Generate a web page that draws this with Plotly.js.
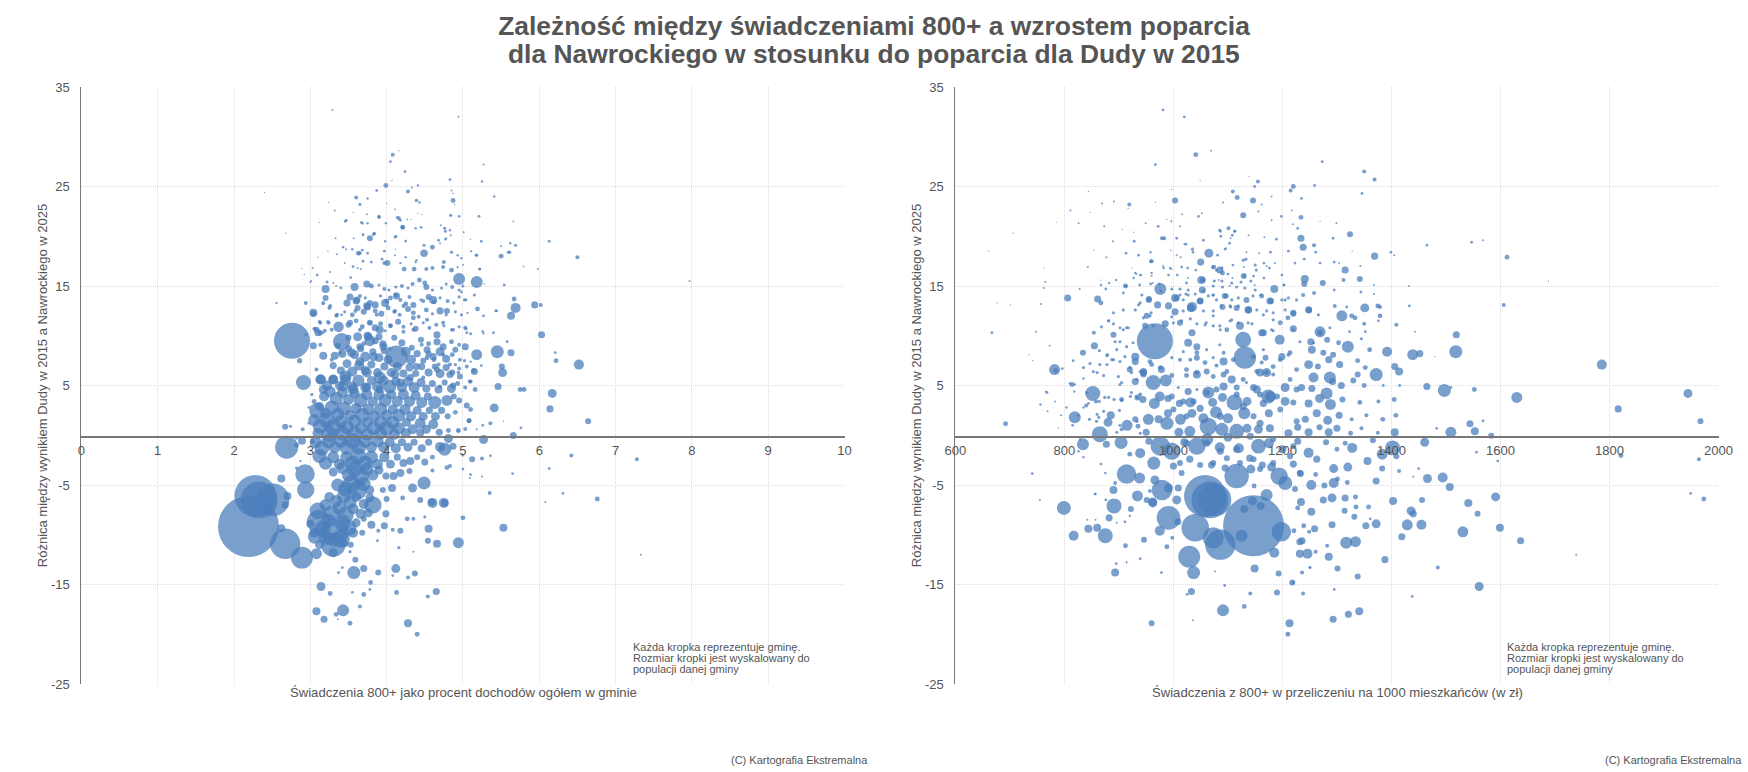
<!DOCTYPE html>
<html><head><meta charset="utf-8">
<script src="https://cdn.plot.ly/plotly-3.0.1.min.js"></script>
<style>html,body{margin:0;padding:0;background:#fff}#c{width:1748px;height:772px}</style>
</head><body><div id="c"></div>
<script>
// every row: [x value, change in support, population in thousands]
const leftLarge=[[2.19,-9.17,1860],[2.28,-6.1,880],[2.33,-6.5,680],[2.51,-6.5,540],[2.76,9.5,650],[2.67,-10.9,460],[2.89,-12.3,240],[2.69,-1.2,265],[2.93,-3.9,190],[2.94,-5.5,150],[2.91,5.3,112],[3.09,2.45,128],[3.11,-8.7,280],[3.32,-9.8,380],[3.3,-11,300],[3.41,9.4,150],[3.37,10.9,55],[4.13,7.9,250],[3.06,-10.2,100],[3.08,-11.9,60]];
const leftUpper=[[3.29,32.7,2],[4.94,32,2],[4.08,28.2,8],[4.16,28.6,1],[4.05,27.5,4],[5.27,27.2,2],[4.24,26.5,4],[3.99,25.1,12],[4.83,25.7,4],[5.25,25.5,3],[4.07,25.6,1],[4.33,24.9,2],[4.41,25.1,3],[4.28,24.5,8],[3.87,24.6,4],[4.85,24.6,2],[4.87,24.3,1],[4.87,23.6,12],[5.41,24,3],[3.6,23.9,8],[3.75,23.8,3],[2.4,24.4,0.4],[4.39,23.6,6],[4.43,23.4,3],[3.65,23.2,5],[3.24,23.4,0.5],[4,23.3,0.5],[4.89,23.2,1],[4.11,22.7,1.5],[3.32,22.6,2],[3.56,22.4,1],[3.74,22.2,2],[3.9,22,5],[4.84,22.1,5],[4.95,22,4],[5.21,22,4],[4.16,21.8,8],[4.46,22.2,1],[4.41,22.3,1],[4.27,21.7,1.5],[4.32,21.7,1],[3.46,21.5,4],[3.67,21.4,3],[3.75,21.3,3],[3.99,21.3,3],[5.66,21.5,1.5],[3.12,21.4,0.8],[4.21,20.9,12],[4.46,20.9,1],[4.71,21.1,2],[4.76,20.8,5],[4.77,20.5,5],[5.01,20.4,2],[2.68,20.3,0.5],[3.69,20.1,2],[3.83,20.2,6],[3.78,19.8,18],[4.12,20,5],[4.84,20.1,2],[6.13,19.5,4],[3.33,19.8,2],[3.57,19.8,2],[4.25,19.6,1],[4.68,19.6,4],[4.78,19.8,2],[5.1,19.7,0.5],[5.24,19.5,4],[4.7,19.3,2],[5.62,19.3,3],[5.69,19.1,5],[5.5,19,2],[3.43,18.9,1],[4.49,19.1,5],[4.6,18.9,12],[4.49,18.3,28],[3.65,18.3,6],[3.68,18.6,4],[3.75,18.3,4],[4.12,18.7,1],[3.35,18.2,2],[3.1,17.9,1],[6.5,17.9,8],[5.61,18.4,6],[5.5,18,12],[5.17,18.1,3],[5.1,18.5,1],[3.47,21.6,4],[3.68,21.3,4],[3.9,21.9,6],[4.14,21.9,4],[4.18,21.6,4],[4.38,20.8,3],[4.45,20.9,3],[4.21,20.9,8],[4.77,19.7,3],[4.83,20.6,3],[3.69,20.2,3],[3.84,20.3,5],[3.98,19.5,3],[4.11,19.9,3],[4.25,19.5,3],[3.43,18.9,3],[3.47,18.7,2],[3.55,18.7,3],[3.63,18.3,12],[3.97,18.5,4],[4.85,18.4,5],[4.93,18.1,3],[4.98,17.8,3],[5.11,18.5,2],[3.23,18.5,1]];
const leftMiddle=[[3.45,17.3,2],[3.56,16.95,4],[3.62,16.8,2],[3.66,16.7,2],[3.69,17.5,4],[3.8,17.4,4],[4.01,17.3,18],[3.94,17.7,4],[3.97,17.3,8],[4.38,17.4,3],[4.39,17.6,3],[4.25,17.9,3],[4.11,18.1,2],[4.23,16.7,12],[4.18,17.3,3],[4.36,16.7,12],[4.52,16.7,8],[4.6,16.8,8],[4.75,17.4,8],[4.74,16.9,8],[4.85,16.6,12],[4.93,16.9,3],[5,17.1,2],[5.18,18.1,5],[5.22,16.7,4],[5.59,18.4,3],[5.8,16.9,1],[3.03,16.8,2],[3.09,16.1,4],[3,15.4,2],[2.92,16.15,1],[2.89,16.75,0.5],[3.26,16.4,2],[3.22,15.4,4],[3.3,15.3,2],[3.2,14.7,32],[3.4,14.8,4],[3.34,15,2],[3.53,15.85,4],[3.2,13.8,18],[3.16,13.2,2],[3.25,12.8,8],[2.94,13.3,8],[2.55,13.3,1],[3.04,12.3,32],[3.12,11.4,6],[3.23,11.4,6],[3.05,10.7,6],[3.1,10.3,25],[3.17,10.3,3],[3.28,10.6,8],[3.34,12,8],[3.41,12.1,4],[3.58,14.9,32],[3.74,15.2,25],[3.8,15,12],[3.9,15.1,5],[3.97,14.7,8],[4.03,14.6,5],[4.12,14.9,5],[4.2,15,8],[4.28,14.8,5],[4.34,15.2,8],[4.43,15.6,12],[4.5,15.3,12],[4.52,14.9,18],[4.6,14.6,5],[4.72,14.8,5],[4.78,15.2,5],[4.86,14.9,8],[4.95,14.6,5],[5,15,5],[3.52,13.9,25],[3.6,13.5,25],[3.65,14,8],[3.72,13.8,5],[3.78,13.3,18],[3.85,13.1,25],[3.92,14,5],[4,13.5,12],[4.05,13.8,12],[4.12,14.1,12],[4.18,13.6,8],[4.25,13.2,12],[4.35,13.1,18],[4.3,13.9,8],[4.45,13.6,5],[4.55,13.9,18],[4.62,13.4,12],[4.7,13.8,5],[4.8,13.5,8],[4.88,13.3,5],[4.95,13.9,5],[5.02,13.6,5],[3.45,12.4,5],[3.55,12.1,12],[3.62,12.8,18],[3.7,12.4,18],[3.75,12.9,25],[3.85,12.5,12],[3.93,12.2,18],[4.02,12.8,12],[4.1,12.4,8],[4.17,12.1,8],[4.28,12.7,18],[4.35,12.3,12],[4.42,11.9,8],[4.52,12.6,12],[4.6,12.2,5],[4.7,12.5,25],[4.78,12.1,5],[4.9,12.4,5],[4.98,12.1,5],[5.06,12.3,3],[3.5,11.1,18],[3.6,11.5,12],[3.68,10.9,12],[3.78,11.3,18],[3.85,10.8,25],[3.92,11.2,12],[3.98,10.5,5],[4.05,11,12],[4.15,11.4,18],[4.22,10.9,8],[4.32,11.2,5],[4.38,10.7,18],[4.48,11.3,5],[4.56,10.8,8],[4.65,11.1,8],[4.75,11,5],[4.85,10.6,5],[4.95,10.9,5],[5.04,10.7,5],[5.1,10.2,5],[5.27,10.2,2],[4.66,10.1,25],[3.75,10,32],[3.9,9.9,25],[3.5,9.8,18],[3.62,9.9,40],[3.7,9.2,12],[3.85,9.5,25],[3.95,9.2,25],[4.1,9.8,18],[4.2,9.3,25],[3.78,9.5,60],[4.45,9.6,18],[4.55,9.2,12],[4.66,9.4,25],[4.74,8.9,25],[4.85,9.4,12],[4.95,9.1,8],[5.03,8.9,25],[5.03,10.8,8],[2.94,10.1,4],[3.07,10.7,5],[3.13,10.3,14],[2.86,7.5,14],[3.04,9,25],[3.17,8,32],[3.32,8,32],[5.18,8.1,60],[5.45,8.4,85],[5.63,8.3,25],[6.03,10.1,25],[6.21,8.3,4],[6.22,7.5,12],[6.52,7.1,50],[5.52,6.3,40],[5.51,6.9,18],[5.58,9.4,4],[5.14,6.5,12],[5.24,7,4],[5.46,4.9,25],[5.75,4.6,12],[5.8,4.6,12],[6.17,4.2,40],[5.26,10.4,4],[5.4,10.3,4],[5.69,12.8,50],[5.67,13.7,12],[5.63,12,32],[5.94,13.1,25],[6.02,13.1,8],[5.43,12.5,4],[5.19,12.7,12],[5.54,15.1,4],[5.18,15.4,72],[4.95,15.7,72],[5.22,16.7,4],[5.98,16.7,2],[5.79,17,1],[7.97,15.5,2],[5.28,15.2,1],[2.56,13.3,2],[3.01,15.5,2],[5.44,12.5,4],[5.27,12,4],[5.15,14.1,5],[5.04,13.6,4],[4.98,14.4,4]];
const leftFill=[[3.04,12.2,18],[3.17,4.6,40],[3.13,5.6,50],[3.91,10.6,32],[4.79,12.5,18],[4.9,8.6,18],[4.96,5.9,18],[4.83,6.1,25],[4.66,6.6,18],[4.39,6.9,25],[5.15,6.4,25],[5.05,10.3,4],[4.87,10.6,8],[4.35,11.8,12],[4.61,13.6,32],[4.13,14,25],[3.61,13.6,25],[3.48,13.3,25],[3.26,13,8],[3.17,13.3,8],[3.35,12.1,8],[3.13,11.3,8],[3.24,11.3,8],[3.08,10.6,18],[3.19,10.5,8],[3.59,12.5,8],[3.74,13,25],[3.98,13.3,32],[3.87,12.1,8],[4.11,12.5,8],[4.22,13,8],[4.48,13.5,8],[4.53,11.6,8],[4.74,11.3,8],[4.35,10.6,8],[4.22,10.4,8],[4.05,11,8],[3.78,11.3,8],[3.65,10.6,8],[3.52,11.3,18],[3.76,9.9,32],[3.65,8.9,25],[3.54,8.3,40],[3.39,8.3,8],[3.28,7.6,8],[3.13,9.1,8],[3.08,6.6,8],[3.3,5.6,40],[3.46,5.9,72],[3.65,7.4,40],[3.83,7.9,40],[3.96,8.9,32],[3.74,6.3,50],[3.91,5.8,72],[4.11,6.1,40],[4.31,5.8,25],[4.18,5.3,32],[4.53,8.6,25],[4.33,8.8,18],[4.46,9.1,8],[4.61,7.9,25],[4.74,8.1,8],[4.53,7.8,12],[4.68,7.1,8],[4.83,7.1,8],[4.48,5.8,8],[4.7,4.9,8],[4.87,5,18],[5.09,5.4,8],[5.16,4.6,12],[5.05,6.9,8],[3.56,4.6,60],[3.74,4.8,40],[3.91,4.6,32],[3.43,4.9,50],[3.05,3.4,12],[3.02,4.1,5],[2.98,2.8,4],[2.98,1.2,4],[2.9,0.6,8],[3.03,-0.6,12],[4.04,8.7,8],[4.9,7.1,6],[5.02,7.5,5],[4.94,6.3,6],[5.1,7.4,3]];
const leftCorePositive=[[3.36,9,18],[3.42,8.2,32],[3.5,8.7,25],[3.58,8.1,40],[3.66,8.7,25],[3.72,7.9,50],[3.82,8.4,25],[3.9,7.8,40],[3.97,8.5,25],[4.02,7.6,40],[4.25,8.4,50],[4.32,7.6,50],[4.4,8.2,25],[4.48,7.5,18],[4.55,8.2,18],[4.62,7.6,12],[4.7,8.4,40],[4.78,7.7,32],[4.86,8.1,12],[4.96,7.6,8],[3.3,7,25],[3.4,6.5,32],[3.48,7.2,40],[3.55,6.4,50],[3.64,7,50],[3.72,6.5,40],[3.8,7.1,32],[3.88,6.3,40],[3.97,6.9,32],[4.06,6.3,40],[4.14,6.9,40],[4.22,6.2,32],[4.3,6.8,32],[4.38,6.2,25],[4.46,6.9,25],[4.55,6.3,32],[4.63,6.9,18],[4.7,6.2,40],[4.78,6.8,25],[4.86,6.3,18],[4.95,6.7,8],[3.14,5.6,50],[3.22,5,50],[3.3,5.6,50],[3.38,5,40],[3.46,5.6,60],[3.55,4.9,50],[3.63,5.5,72],[3.72,4.8,50],[3.8,5.5,40],[3.88,4.9,60],[3.96,5.5,50],[4.04,4.9,90],[4.12,5.4,40],[4.2,4.8,50],[4.28,5.4,50],[4.36,4.8,60],[4.45,5.3,40],[4.52,4.7,32],[4.6,5.2,25],[4.68,4.6,32],[4.76,5.3,18],[4.85,4.7,40],[4.93,5.2,12],[5.03,4.8,8],[5.1,5.4,8],[3.18,3.9,50],[3.26,4.4,60],[3.34,3.7,85],[3.42,4.3,60],[3.5,3.6,60],[3.58,4.2,50],[3.66,3.5,98],[3.74,4.1,60],[3.82,3.4,50],[3.9,4.1,60],[3.98,3.5,85],[4.06,4.1,50],[4.14,3.4,60],[4.22,4.1,60],[4.3,3.4,60],[4.38,4,50],[4.46,3.3,60],[4.54,3.9,32],[4.63,3.3,85],[4.79,3.5,60],[4.88,3.9,18],[4.95,3.5,18],[5.05,3,18],[5.1,2.6,12],[3.12,2.9,40],[3.2,2.2,60],[3.28,2.8,98],[3.36,2.1,85],[3.44,2.7,98],[3.52,2,60],[3.6,2.7,60],[3.68,2,110],[3.76,2.6,72],[3.84,1.9,60],[3.92,2.6,85],[4,2,60],[4.08,2.6,50],[4.16,2,85],[4.24,2.6,60],[4.32,1.9,50],[4.4,2.5,40],[4.48,1.9,40],[4.56,2.5,25],[4.64,1.9,40],[4.72,2.5,25],[4.8,1.9,18],[4.9,2.3,12],[5.08,1.45,12],[3.05,1.5,72],[3.13,0.9,112],[3.22,1.5,125],[3.3,0.8,140],[3.4,1.4,85],[3.48,0.8,98],[3.58,1.4,85],[3.66,0.7,72],[3.75,1.3,60],[3.83,0.7,98],[3.92,1.3,85],[4,0.7,110],[4.08,1.3,85],[4.16,0.7,72],[4.26,1.3,40],[4.34,0.6,50],[4.44,1.2,60],[4.52,0.6,40],[4.61,1.1,50],[4.69,0.3,25],[4.81,0.47,12],[4.94,0.47,12],[5.03,0.64,8],[3.1,0.2,60],[3.25,0.1,125],[3.42,0.2,110],[3.58,0.1,125],[3.75,0.1,85],[3.92,0.2,85],[4.1,0.1,60],[4.25,0.2,50],[4.44,0.25,32],[2.67,0.85,18],[2.74,0.9,5],[6.14,2.65,25],[6.64,1.4,18],[5.66,-0.03,25],[5.76,0.75,4],[5.53,1.4,1],[5.41,2.75,40],[5.27,-0.43,40],[5.36,1.2,8],[5.26,1,4],[5.08,1.45,12],[5.18,0.6,2],[4.94,0.4,4]];
const leftCoreNegative=[[2.89,-0.55,32],[3.07,-0.7,72],[3.15,-1.3,112],[3.24,-0.6,98],[3.32,-1.2,72],[3.4,-0.6,85],[3.48,-1.2,112],[3.56,-0.6,125],[3.64,-1.2,98],[3.72,-0.6,85],[3.8,-1.2,60],[3.88,-0.6,72],[3.96,-1.2,60],[4.04,-0.7,50],[4.12,-1.3,50],[4.2,-0.7,32],[4.28,-1.2,40],[4.36,-0.7,25],[4.46,-1.3,32],[4.55,-0.7,25],[4.7,-1.17,50],[4.87,-1.1,25],[4.81,-0.33,40],[4.76,-1.4,85],[3.12,-2.1,98],[3.2,-2.8,85],[3.3,-2.2,72],[3.38,-2.9,60],[3.47,-2.2,72],[3.55,-2.8,110],[3.63,-2.1,125],[3.72,-2.8,110],[3.8,-2.2,85],[3.88,-2.9,60],[3.97,-2.2,50],[4.05,-2.9,40],[4.14,-2.2,25],[4.22,-2.8,32],[4.31,-2.6,32],[4.4,-2.2,18],[4.5,-2.7,25],[4.6,-2.2,12],[5.12,-2.4,18],[5.25,-2.34,8],[5.36,-2.07,4],[5,-2,4],[4.79,-3.25,12],[3.3,-3.7,40],[3.42,-3.3,72],[3.5,-4,85],[3.58,-3.4,125],[3.66,-4.1,140],[3.74,-3.4,85],[3.82,-4,60],[3.9,-3.5,40],[3.99,-4.1,25],[4.09,-4.1,32],[4.18,-3.8,32],[4.3,-3.6,18],[4.6,-3.55,8],[4.83,-3.1,8],[5,-3.4,4],[3.36,-5,85],[3.46,-5.4,110],[3.54,-4.9,160],[3.62,-5.5,180],[3.7,-4.9,98],[3.78,-5.5,40],[3.95,-5.5,18],[4.07,-5.3,32],[3.25,-6.2,50],[3.34,-6.6,72],[3.44,-6.1,98],[3.52,-6.7,85],[3.6,-6.2,50],[3.7,-6.9,50],[3.82,-7,150],[3.78,-6.3,40],[4,-6.4,18],[4.44,-6.5,18],[4.59,-6.7,25],[4.75,-6.8,50],[4.6,-6.8,50],[3.1,-7.6,140],[3.2,-7,72],[3.28,-7.8,110],[3.38,-7.3,98],[3.46,-8,140],[3.56,-7.4,60],[3.66,-7.9,50],[3.76,-7.8,40],[3.99,-7.9,25],[3,-8.9,32],[3.16,-9.4,125],[3.24,-8.6,98],[3.42,-8.8,140],[3.5,-9.3,125],[3.6,-8.8,40],[3.7,-8.4,18],[3.8,-9,32],[3.05,-9.8,50],[3.2,-10.3,98],[3.4,-10.4,160],[3.56,-9.8,50],[3.68,-9.8,18],[3.12,-11,40],[3.53,-11,18],[3.52,-11.7,5],[3.45,-10.9,25],[3.3,-11.8,40],[2.62,-4.35,32],[2.7,-6.1,32],[2.67,-7,25],[2.62,-9.35,32],[2.82,-3.3,5],[2.87,-2.6,3],[2.82,-1,12],[2.82,-0.3,4]];
const leftLower=[[4.55,-9.4,32],[5.53,-9.3,32],[4.94,-10.8,60],[4.66,-10.9,32],[4.54,-10.6,18],[5,-8.3,12],[5.35,-5.8,8],[6.31,-5.85,4],[6.08,-6.7,2],[6.76,-6.4,12],[7.28,-2.4,8],[7.33,-12,2],[6.42,-2.04,8],[6.13,-3.35,4],[5.65,-3.85,4],[5.25,-4.15,2],[5.1,-3.95,4],[5.09,-4.3,2],[4.76,-6.8,25],[4.49,-4.8,85],[4.34,-5.3,40],[4.21,-6.3,12],[4.5,-8.2,5],[4.27,-8.4,12],[4.35,-8.4,8],[3.97,-9.1,25],[3.89,-9.6,8],[4.08,-9.5,8],[4.18,-9.6,18],[3.88,-10.6,4],[4.16,-11.3,5],[4.35,-11.7,2],[3.59,-12.5,18],[3.7,-13.4,25],[4.12,-13.4,40],[3.89,-13.8,18],[4.37,-13.9,18],[4.28,-14.3,8],[4.08,-14.1,4],[3.57,-13.8,85],[3.37,-13.8,4],[3.42,-13.3,4],[3.79,-14.8,12],[3.78,-15.5,4],[4.13,-15.8,12],[4.65,-15.7,25],[4.54,-16.2,8],[3.7,-16,12],[3.55,-15.8,4],[3.26,-15.9,12],[3.14,-15.2,40],[3.08,-17.7,32],[3.18,-18.5,25],[3.43,-17.6,72],[3.34,-18,12],[3.36,-18.5,2],[3.52,-18.9,12],[3.65,-17.2,8],[4.28,-18.9,32],[4.4,-20,12]];

const rightLarge=[[1147,-9.1,1860],[1058,-6.1,880],[1067,-6.5,680],[1076,-6.5,540],[966,9.45,650],[1086,-11,460],[1029,-12.2,240],[991,-8.3,280],[1040,-9.3,380],[1116,-4.1,300],[1073,-10.3,220],[1198,-9.7,190],[979,-5.5,210],[914,-3.9,190],[1194,-4.1,150],[1205,-4.8,100],[1131,7.8,250],[1128,9.6,125],[1064,0.9,150],[1043,-1.1,150],[1112,3.3,125],[976,-1.1,190],[997,-1.6,150],[1037,-13.8,85],[963,5.3,112],[986,5.5,72],[875,-10.1,112],[891,-7.1,112],[852,4.2,112],[865,0.1,128],[799,-7.3,98]];
const rightUpper=[[981,32.7,4],[1020,32,4],[1041,28.2,12],[1069,28.6,2],[967,27.2,4],[1273,27.5,4],[1350,26.5,8],[1369,25.7,8],[1155,25.5,8],[1139,26,0.5],[1049,25.6,0.5],[1149,25,4],[1220,25,12],[1215,24.6,8],[1259,25.1,4],[997,24.7,0.5],[1109,24.5,8],[1117,23.9,12],[1146,23.6,18],[1180,24,2],[1235,23.8,4],[1346,24.3,4],[844,24.5,0.5],[1003,23.6,18],[967,23.4,0.5],[869,23.3,2],[891,23.5,2],[919,23.2,8],[1091,23.4,2],[1162,23.2,2],[811,22.6,2],[847,22.4,0.5],[1217,22.6,2],[1156,22.5,2],[1234,21.9,12],[1198,22,4],[1128,22.1,18],[1046,22,4],[1052,22.3,2],[1016,22.2,2],[917,22.8,0.5],[1180,21.6,2],[988,21.7,0.5],[996,21.5,2],[949,21.3,2],[826,21.3,2],[785,21.4,0.5],[972,21,4],[1269,21.5,0.5],[1299,21.3,2],[1219,21.2,2],[1228,20.8,4],[873,21,2],[906,20.7,0.5],[1101,20.8,8],[1112,20.5,4],[1085,20.6,4],[1012,21,2],[1324,20.2,18],[927,20.4,0.5],[706,20.3,0.3],[1138,20.1,2],[1167,19.9,2],[1189,19.7,4],[1234,19.8,25],[1293,19.8,4],[1087,20,4],[1105,19.8,2],[1006,19.8,4],[979,19.8,8],[983,19.8,8],[928,19.5,4],[889,19.5,2],[1055,19.6,4],[1547,19.4,4],[1568,19.6,2],[1465,19.1,4],[1238,18.9,25],[1258,19.1,8],[1020,19.2,2],[1096,18.8,2],[995,18.6,1],[661,18.5,0.3],[913,18.3,4],[854,18.6,0.5],[1065,18.3,40],[1036,18.4,4],[1134,18.4,2],[1157,18.3,2],[1211,18.5,4],[1261,18.4,4],[1399,18.4,4],[1405,18.1,2],[1328,18.5,0.5],[1369,18,25],[1612,17.9,12],[877,17.9,2],[1006,18.1,2],[1013,17.9,2],[959,17.5,8],[1050,17.4,25],[1223,17.3,4],[1240,17.7,4],[1269,17.3,4],[1295,17.4,4],[1304,17.3,2],[1074,16.9,12],[1085,16.6,25],[1090,16.3,12],[1129,16.9,2],[1171,17,2],[1186,17.3,2],[1315,16.6,25],[1343,17,2],[843,16.9,2],[763,16.8,0.5],[981,17,2],[996,16.7,2],[924,16.8,0.5],[1051,15.6,32],[1129,16,18],[932,16.2,2],[960,16,2],[941,16.1,2],[1027,15.8,2],[1108,15.8,2],[1083,15.6,2],[1241,15.7,32],[1240,15.2,18],[1274,15.3,18],[1312,15.6,8],[1342,15.7,18],[1688,15.5,0.5],[1432,15,2],[1368,15.1,2],[765,15.4,2],[867,15.6,0.5],[762,14.8,2],[876,14.7,4],[912,15,12],[828,14.7,2],[976,14.7,72],[962,15.3,2],[1185,14.7,32],[1103,15,2],[1149,15.1,2],[1202,15.1,2],[1295,14.6,4],[1368,14.2,2]];
const rightScatter=[[936,18.1,4],[958,18.4,3],[960,17.5,8],[1023,19.2,4],[1035,18.7,5],[1086,20.5,4],[1108,20.1,4],[1113,20.5,4],[1103,19.3,4],[1095,18.7,4],[1081,18.1,4],[1178,18.4,4],[1166,17.3,4],[1150,17.1,5],[1128,17.6,5],[1133,17.7,5],[1152,16.6,5],[1176,16.8,4],[1130,16,5],[1147,16,4],[1166,15.8,4],[1199,16.1,4],[1072,16.9,5],[1079,16.6,5],[1089,16.8,5],[1109,17.1,4],[1100,16.2,4],[1054,15.6,18],[1075,15.5,5],[1089,15.5,5],[1107,15.3,5],[1124,15.4,5],[1142,15.5,5],[1041,16.6,4],[1026,16.8,4],[1015,16.9,4],[1007,16.1,4],[991,16.1,4],[994,16.8,3],[982,16.8,3],[960,16.3,3],[939,16.1,3],[927,15.8,3],[930,16.3,3],[895,15.6,3],[882,15.3,3],[867,15.1,3],[913,15,5],[938,15.1,4],[958,15.2,4],[974,15.2,4],[997,14.7,5],[1012,14.7,5],[1024,15.3,4],[1027,14.6,5],[1053,14.6,25],[1073,15,5],[1090,14.9,5],[1116,14.9,5],[1131,14.8,5],[1150,14.6,5],[1203,15.1,4],[939,13.3,5],[955,13.7,18],[971,13.1,25],[1003,13.8,32],[1012,14.1,5],[1023,14.2,5],[1018,13.6,5],[1040,14.2,5],[1049,13.5,25],[1064,14,5],[1073,14.1,5],[1094,14,18],[1079,13.6,5],[1107,13.6,5],[1119,13.8,5],[1134,13.6,18],[1146,14,5],[1162,14,12],[1177,13.5,25],[1199,13.6,5],[1211,13.8,5],[951,12,18],[959,12.3,5],[1003,12.4,25],[1018,12.5,5],[1034,12.9,50],[1055,12.5,5],[1073,12.5,5],[1090,12.9,18],[1104,13,5],[1116,12.8,18],[1138,12.6,25],[1153,12.6,5],[1171,12.5,5],[1183,12.3,5],[1205,12.6,5],[1220,12.3,18],[881,11.5,5],[890,11.2,5],[917,10.8,5],[908,10.6,5],[868,10.9,5],[854,10.3,8],[948,11,18],[963,11,5],[985,11.2,25],[1000,11.3,5],[1015,11.5,5],[1031,11.7,5],[1043,11.2,5],[1058,11.1,5],[1073,11,5],[1086,10.6,5],[1104,11.5,5],[1122,11,32],[1144,11.2,5],[1162,10.3,25],[1180,10.6,5],[1196,11.3,12],[1220,10.7,25],[847,7.2,5],[864,8.5,5],[878,8,5],[896,8.6,5],[902,7.4,5],[887,7.6,5],[865,7.1,5],[835,6.8,5],[853,6.4,5],[860,6.3,5],[872,6,5],[920,6.8,5],[939,6.4,5],[905,5.3,5],[933,5.6,5],[945,6.3,25],[923,4.3,5],[810,5.2,3],[819,5.1,3],[835,5.7,3],[841,4.3,5],[818,4.4,3],[766,4.4,2],[756,3.1,3],[783,3.4,2],[804,2.8,3],[769,2.4,2],[794,2,2],[789,0.7,1],[835,2.8,3],[844,3.2,4],[864,3.4,5],[881,3.8,5],[891,3.6,5],[905,3.5,5],[921,3.9,5],[934,3.8,18],[872,2.4,5],[885,2,32],[901,2.5,5],[863,1.8,5],[859,1.4,5],[902,1,5],[896,0.3,5],[933,1.4,5],[939,0.2,5],[829,-0.4,3],[826,-1.6,3],[835,-2.2,3],[867,-2.9,4],[875,-3.8,3],[893,-4.8,8],[856,-5.9,3],[1012,7.6,8],[1031,7.6,8],[1043,8.3,12],[1058,7.3,12],[1079,7,8],[1092,8.3,8],[1110,7.6,12],[1147,7.9,12],[1162,7.3,8],[1171,6.3,12],[1183,6.1,8],[1196,7.6,12],[1211,8.1,8],[1226,6.6,12],[957,7.4,12],[976,6.8,12],[997,6,12],[1024,6,12],[1043,6.3,12],[1073,5.9,12],[1098,6.4,12],[1128,5.6,12],[1153,6.4,12],[1214,5.6,12],[1226,4.6,18],[939,4.1,8],[997,3.9,18],[1018,3.4,18],[1037,3.4,18],[1061,4.3,18],[1079,4.6,18],[1116,4.1,18],[1147,4.8,25],[1159,4.1,18],[1190,3.9,18],[1220,3.3,18],[1000,2.6,18],[1024,1.9,18],[1049,2.7,25],[1086,1.9,25],[1128,2.9,25],[1147,1.9,18],[1159,1.2,25],[1196,2.6,18],[1226,1.4,18],[1141,-0.1,25],[1183,-0.4,18],[1220,-1.1,18],[1086,-1.6,25],[1116,-1.4,25],[1061,-0.8,25],[1024,-0.8,25],[1012,-2.8,18],[1049,-3,18],[1073,-2.8,18],[1098,-2.3,18],[1147,-2.4,18],[1122,-2.8,18],[1159,-3.4,18],[1183,-2.8,18],[1214,-2.1,18],[1232,-3.8,18],[842,-8.5,2],[857,-8.5,2],[857,-5.9,3],[876,-6.5,4],[911,-8.7,4],[920,-8.1,3],[922,-7.4,18],[896,-8.8,2],[998,-10.3,8],[914,-12.8,2],[1220,-14.8,5],[1251,-13.3,3],[957,-5.6,8],[951,-6.5,18],[962,-6.7,40],[1009,-5.3,25],[991,-5.3,40],[1008,-8.7,25],[966,-4.5,40]];
const rightFill=[[908,14.3,4],[942,14.1,5],[955,13.6,18],[977,14.5,5],[936,13.1,5],[991,13,25],[1006,13.8,18],[1027,14.1,5],[1032,12.8,32],[1049,13.5,18],[1055,14.5,5],[1073,14.1,5],[1097,14,12],[1088,13,5],[1105,12.9,5],[1119,13,5],[1137,12.6,25],[1160,14.1,5],[1179,13.5,18],[1205,13.6,5],[1226,13.6,5],[1249,12.6,18],[1266,12.1,5],[1220,12.2,18],[1210,11.8,12],[1183,11.6,5],[1165,12.1,5],[1137,11.3,5],[1119,11.3,5],[1107,11.6,5],[1085,11,5],[1098,10.6,12],[1073,12,5],[1060,11.3,5],[1034,10.3,25],[1012,11.3,18],[997,11.9,5],[957,12,5],[945,11.8,5],[930,12.6,5],[908,12.6,5],[890,12.3,5],[881,11.5,4],[902,10.8,5],[890,10.1,18],[914,10.8,5],[926,9.3,5],[893,9.4,5],[914,8.9,5],[902,9.4,5],[879,8.1,5],[878,7.1,5],[890,7.6,5],[911,7.9,5],[930,7.9,32],[930,7.4,25],[920,6.6,18],[923,6.3,5],[945,6.4,25],[960,7.1,12],[978,6.6,25],[997,7.8,5],[1018,8.4,5],[1027,9.3,32],[1043,8.9,25],[1061,8.6,5],[1085,9.1,5],[1092,7.4,32],[1073,7.8,5],[1043,7.8,18],[1024,6.6,12],[1043,6.1,32],[1061,6.4,18],[1092,6.1,18],[1107,5.6,32],[1159,6.3,32],[1171,6.3,40],[1183,6.9,12],[1199,7.9,25],[1165,8.6,5],[1169,7.8,18],[1214,8.3,12],[1248,7.1,40],[1254,8.6,32],[1269,10.3,18],[1275,8.3,18],[1293,8.1,18],[1232,9.4,5],[1257,9.3,5],[1287,10.8,5],[1220,10.6,5],[1165,10.3,25],[1183,10.5,5],[1195,9.6,50],[1287,5.8,72],[1257,5.8,50],[1235,4.8,25],[1205,4.8,40],[1153,4.6,32],[1174,3.9,98],[1134,5.3,5],[1116,4.8,18],[1092,4.9,32],[1064,4.3,72],[1043,4.6,5],[1027,4.4,25],[1009,4.8,5],[930,5.4,25],[945,6.1,18],[902,5.1,5],[899,5.9,5],[874,3.8,5],[933,3.8,5],[975,3.9,50],[1281,4.2,72],[1254,4.7,25]];
const rightMiddle=[[806,13.8,25],[861,13.7,25],[867,13.3,12],[757,13.2,2],[677,13.3,0.3],[701,13.1,0.5],[1606,13.1,8],[1433,13,4],[1351,12.8,40],[1375,13,12],[1379,12.9,8],[1318,12.9,4],[1248,12.6,25],[1309,12,60],[1327,12,12],[1333,11.8,12],[1379,12,12],[1376,11.5,4],[1409,11.1,8],[1269,10.4,60],[1323,10.4,4],[1519,10.1,25],[1443,10.4,2],[1320,8.9,72],[1392,8.4,50],[1439,8.1,60],[1452,8.2,25],[1518,8.4,85],[1480,7.9,0.5],[1786,7.1,50],[1372,6.1,85],[1406,6.9,25],[1414,6.4,32],[1385,5,4],[1415,5,4],[1465,4.9,25],[1497,4.5,85],[1509,4.8,4],[1552,4.6,12],[1630,3.8,60],[1944,4.2,40],[782,6.6,60],[796,6.7,4],[814,5.1,12],[816,7.5,4],[834,8.3,18],[855,9,25],[748,10.4,2],[667,10.3,4],[773,9,2],[735,8.1,0.5],[742,7.5,0.5],[768,4.3,4],[784,6.5,12],[1296,13,8],[1344,14.4,4],[1258,14.3,8],[1238,14.1,8],[1350,11.2,8],[1352,10.4,4],[1252,9.4,25],[1282,9.6,18],[1303,9.3,12],[1345,9.7,5],[1360,8.6,12],[1305,7.1,25],[1285,7.6,25],[1265,6.9,18],[1338,7.5,12],[1352,6.8,12],[1338,6.1,18],[1292,5.4,25],[1308,5,25],[1330,5.5,18],[1350,5,12]];
const rightCore=[[840,3,8],[858,3.4,8],[905,3.6,12],[944,3.6,25],[965,3.2,60],[990,3.7,25],[1011,3.2,25],[1031,3.3,50],[1072,3.3,40],[1090,3.8,40],[1135,3.4,40],[1178,3.9,60],[1205,3.4,40],[1165,3.2,25],[1248,3.2,32],[1268,3.7,40],[1288,3.1,60],[1310,3.6,18],[1342,3.3,12],[1376,3.4,8],[1405,3.6,12],[825,2,4],[815,1,4],[819,1.8,72],[846,1.6,5],[860,2.1,5],[930,1.6,18],[954,1.6,60],[973,1.6,32],[990,2.2,32],[1013,1.6,60],[1034,2.2,40],[1055,1.7,50],[1078,2.3,72],[1100,1.7,50],[1130,2.2,72],[1175,2.2,32],[1242,1.6,25],[1263,2.2,32],[1283,1.5,40],[1304,2,25],[1327,1.6,8],[1354,2,8],[1384,1.6,12],[1408,2,12],[880,1.3,40],[915,1,60],[988,1.2,85],[1089,0.6,85],[1116,0.4,110],[1135,0.7,40],[1156,0.6,40],[1177,0.7,32],[1211,0.2,32],[1228,0.8,25],[1248,0.3,32],[1268,0.8,18],[1285,0.3,32],[1300,0.7,25],[1325,0.2,12],[1345,0.7,8],[1030,0.4,60],[1010,0.3,40],[950,0.3,25],[935,0.9,12],[905,0.6,8],[1315,-0.8,12],[1366,-0.5,18],[1375,0.24,8],[1406,0.3,32],[1461,-0.7,40],[1509,0.3,60],[1483,0.7,4],[1544,1.15,25],[1553,0.4,32],[1568,1.45,4],[1583,-0.06,18],[1816,2.65,25],[1967,1.4,18],[692,1.15,12],[741,-3.85,4],[755,-6.5,2],[834,-0.9,72],[877,-0.9,25],[904,-0.73,85],[939,-1.8,50],[964,-2.8,85],[920,-1.9,12],[955,-0.6,25],[1020,-0.7,32],[1030,-2.4,25],[1062,-0.4,72],[1085,-1.2,50],[1100,-0.2,40],[1120,-1.3,50],[1156,-1.1,110],[1140,-2.3,25],[1175,-0.8,50],[1200,-1.4,32],[1228,-0.6,25],[1248,-1.77,50],[1263,-2.4,25],[1280,-0.7,18],[1300,-1.4,12],[1328,-1.27,50],[1356,-2.6,32],[1383,-1.9,60],[1402,-1.27,112],[1409,-2.1,18],[1556,-1.7,4],[1595,-2.6,4],[1821,-2.04,12],[1964,-2.4,8],[1000,-3.1,25],[1015,-3.8,18],[1070,-3,25],[1095,-3.3,25],[1142,-3.4,40],[1163,-3,25],[1180,-3.2,40],[1220,-2.9,25],[1233,-3.85,25],[1261,-3.95,12],[1294,-3.35,40],[1320,-3.2,40],[1383,-3.35,18],[1414,-3.6,8],[1450,-3.35,4],[1440,-4.15,2],[1466,-4.35,40],[1494,-4.25,50],[1507,-5.2,32],[1372,-4.6,25],[1319,-4.75,12],[1294,-4.8,50],[1277,-5.05,18],[1301,-4.4,12],[1253,-5,50],[1223,-5.4,18],[1171,-6,72],[1145,-6.6,40],[1160,-7.1,32],[1130,-7.4,32],[1148,-5.1,12],[1291,-6.3,40],[1275,-6.5,25],[1315,-6.3,25],[1334,-6.2,12],[1403,-6.6,32],[1436,-7.6,40],[1440,-7.9,25],[1456,-6.5,18],[1541,-6.8,32],[1558,-7.9,18],[1591,-6.2,40],[1949,-5.85,4],[1973,-6.4,12],[938,-4.3,60],[890,-5.5,32],[934,-6.1,60],[962,-6.8,40],[1006,-6.5,40],[882,-8.3,25],[844,-9.4,32],[860,-9.3,32],[817,-10.1,50],[975,-9.6,50],[1125,-10.1,72],[1185,-11.8,50],[1149,-13.4,32],[1193,-13.9,18],[1218,-14.8,18],[1190,-15.8,18],[1033,-15.7,25],[1025,-16,4],[1091,-17.6,72],[1130,-17.2,12],[1141,-15.9,8],[1238,-15.9,8],[1295,-15.5,4],[1094,-15.1,4],[1076,-13.7,2],[978,-13.8,4],[893,-13.8,32],[895,-12.9,4],[914,-12.7,0.5],[939,-12.4,4],[912,-11.1,12],[946,-10.5,18],[988,-11.2,12],[960,-18.9,18],[1036,-18.6,2],[1213,-18.9,32],[1210,-20,12],[1293,-18.5,25],[1321,-18,25],[1341,-17.7,32],[1338,-14.2,18],[1301,-13.4,18],[1250,-13.3,4],[1236,-13.8,8],[1285,-12.2,32],[1261,-11.7,8],[1246,-11.9,50],[1232,-11.9,32],[1236,-10.6,25],[1282,-11.1,8],[1317,-10.8,72],[1334,-10.7,60],[1388,-12.5,25],[1485,-13.3,8],[1438,-16.2,4],[1561,-15.2,40],[1637,-10.6,25],[1739,-12,2],[1599,-9.3,32],[1531,-9.7,60],[1455,-9,50],[1429,-9,60],[1419,-10.2,25],[1372,-8.9,40],[1353,-9.1,25],[1332,-8.2,18],[1314,-7.6,18],[1335,-7.2,12],[1358,-7.2,12],[1361,-8.4,4],[1291,-9,25],[1259,-9.4,25],[1239,-9.1,12],[1249,-9.7,8],[1253,-7.7,32],[1234,-6.7,32],[1228,-7.3,12],[1221,-9.6,12],[1232,-10.7,25]];

const panelXTicks=[[0,10,1],[600,2000,200]];
const yTickValues=[-25,-15,-5,5,15,25,35];
const yTickLabels=['-25','-15','-5','5','15','25','35'];
const titleLines=['Zależność między świadczeniami 800+ a wzrostem poparcia','dla Nawrockiego w stosunku do poparcia dla Dudy w 2015'];
const xTitles=['Świadczenia 800+ jako procent dochodów ogółem w gminie','Świadczenia z 800+ w przeliczeniu na 1000 mieszkańców (w zł)'];
const yTitle='Różnica między wynikiem Dudy w 2015 a Nawrockiego w 2025';
const noteLines=['Każda kropka reprezentuje gminę.','Rozmiar kropki jest wyskalowany do','populacji danej gminy'];
const credit='(C) Kartografia Ekstremalna';

const W=1748,H=772;
const left=[...leftLarge,...leftUpper,...leftMiddle,...leftFill,...leftCorePositive,...leftCoreNegative,...leftLower];
const right=[...rightLarge,...rightUpper,...rightScatter,...rightFill,...rightMiddle,...rightCore];
const blue='rgba(74,126,187,0.74)';
const dotSize=p=>Math.max(1.3,Math.sqrt(2*p));
function trace(rows,xa,ya){return {type:'scatter',mode:'markers',xaxis:xa,yaxis:ya,
 x:rows.map(r=>r[0]),y:rows.map(r=>r[1]),hoverinfo:'skip',
 marker:{size:rows.map(r=>dotSize(r[2])),opacity:1,color:blue,line:{width:0}}};}
const grid={showgrid:true,gridcolor:'#dddddd',griddash:'1px,1px',gridwidth:1,zeroline:false};
const tick={family:'"Liberation Sans",Arial,sans-serif',size:13,color:'#555'};
function xAxis(i,dom){const t=panelXTicks[i];return {...grid,domain:dom,range:[t[0],t[1]],dtick:t[2],tick0:t[0],anchor:'free',position:1-436/H,
 showline:true,linecolor:'#777',linewidth:1.5,ticks:'',tickfont:tick,ticklabelstandoff:2};}
function yAxis(anchor){return {...grid,domain:[1-684/H,1-87/H],range:[-25,35],tickmode:'array',tickvals:yTickValues,ticktext:yTickLabels,anchor:anchor,
 showline:true,linecolor:'#777',linewidth:1,ticks:'',tickfont:tick,ticklabelstandoff:8,
 title:{text:yTitle,font:{family:tick.family,size:13,color:'#555'},standoff:0}};}
const ann=[];
function addText(text,px,py,size,anchor){ann.push({text:text,xref:'paper',yref:'paper',x:px/W,y:1-py/H,xanchor:anchor,yanchor:'middle',showarrow:false,
 font:{family:tick.family,size:size,color:'#555'}});}
addText('<b>'+titleLines[1]+'</b>',874,54,26.4,'center');
[0,874].forEach((off,i)=>{
 addText(xTitles[i],463+off,692,13.1,'center');
 noteLines.forEach((l,j)=>addText(l,631+off,647+j*11,11,'left'));
 addText(credit,870+off,760,11,'right');
});
Plotly.newPlot('c',[trace(left,'x','y'),trace(right,'x2','y2')],{
 width:W,height:H,showlegend:false,paper_bgcolor:'#fff',plot_bgcolor:'#fff',
 margin:{l:0,r:0,t:0,b:0},
 title:{text:'<b>'+titleLines[0]+'</b>',x:0.5,xanchor:'center',y:1-26/H,yanchor:'middle',font:{family:tick.family,size:26.4,color:'#555'}},
 xaxis:xAxis(0,[81.4/W,844.5/W]),xaxis2:xAxis(1,[955.4/W,1718.5/W]),
 yaxis:yAxis('x'),yaxis2:yAxis('x2'),
 annotations:ann
},{displayModeBar:false,staticPlot:true});
</script></body></html>
